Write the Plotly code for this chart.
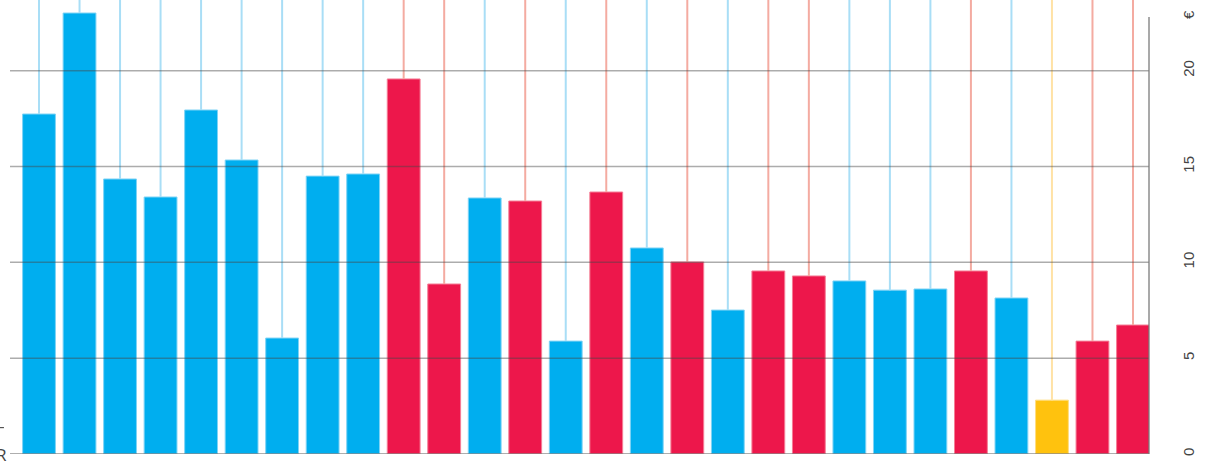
import plotly.graph_objects as go

values = [17.74, 23.01, 14.35, 13.41, 17.95, 15.34, 6.05, 14.50, 14.61,
          19.57, 8.87, 13.36, 13.20, 5.89, 13.67, 10.75, 10.02, 7.51,
          9.55, 9.29, 9.03, 8.55, 8.61, 9.55, 8.14, 2.81, 5.89, 6.73]
groups = ["b", "b", "b", "b", "b", "b", "b", "b", "b",
          "r", "r", "b", "r", "b", "r", "b", "r", "b",
          "r", "r", "b", "b", "b", "r", "b", "y", "r", "r"]
tick_vals = [0, 5, 10, 15, 20, 22.8]
tick_text = ["0", "5", "10", "15", "20", "€"]

bar_col = {"b": "#00AEEF", "r": "#ED174B", "y": "#FFC20E"}
edge_col = {"b": "#7FD3F5", "r": "#F57D95", "y": "#FFDD80"}
line_col = {"b": "#A9DEF6", "r": "#F4ABA1", "y": "#FFE2A6"}

YMAX = 23.69
xs = list(range(len(values)))

fig = go.Figure()

# vertical guide lines above each bar
for key in ["b", "r", "y"]:
    lx, ly = [], []
    for i, (v, g) in enumerate(zip(values, groups)):
        if g == key:
            lx += [i, i, None]
            ly += [v, YMAX + 1, None]
    fig.add_trace(go.Scatter(x=lx, y=ly, mode="lines",
                             line=dict(color=line_col[key], width=2),
                             hoverinfo="skip", showlegend=False))

fig.add_trace(go.Bar(
    x=xs, y=values,
    marker=dict(color=[bar_col[g] for g in groups],
                line=dict(color=[edge_col[g] for g in groups], width=1)),
    showlegend=False))

shapes = []
for t in [5, 10, 15, 20]:
    shapes.append(dict(type="line", xref="paper", yref="y", x0=0, x1=1, y0=t, y1=t,
                       line=dict(color="rgba(70,70,70,0.45)", width=1.5), layer="above"))
# baseline
shapes.append(dict(type="line", xref="paper", yref="y", x0=0, x1=1, y0=0, y1=0,
                   line=dict(color="rgba(120,120,120,0.8)", width=1.5), layer="above"))
# right axis line
shapes.append(dict(type="line", xref="paper", yref="y", x0=1, x1=1, y0=0, y1=22.8,
                   line=dict(color="rgba(120,120,120,0.85)", width=1.5), layer="above"))
# small dash bottom-left
shapes.append(dict(type="line", xref="paper", yref="paper", x0=-0.0088, x1=-0.0053,
                   y0=0.058, y1=0.058, line=dict(color="#333", width=1), layer="above"))

fig.update_layout(
    width=1207, height=464,
    margin=dict(l=10, r=58, t=0, b=10),
    paper_bgcolor="white", plot_bgcolor="white",
    bargap=0.19,
    shapes=shapes,
    xaxis=dict(range=[-0.716, 27.395], showticklabels=False, showgrid=False,
               zeroline=False, showline=False, ticks=""),
    yaxis=dict(range=[0, YMAX], side="right", showgrid=False, zeroline=False,
               showline=False, tickvals=tick_vals, ticktext=tick_text,
               tickangle=-90, ticklabelstandoff=29,
               tickfont=dict(family="Liberation Sans Narrow, Liberation Sans, Arial", size=15,
                             color="#444")),
    annotations=[dict(text="R", xref="paper", yref="paper", x=-0.0075, y=0.0,
                      xanchor="center", yanchor="middle", showarrow=False,
                      font=dict(size=17, color="#444"))],
)

fig.write_html("out.html")
